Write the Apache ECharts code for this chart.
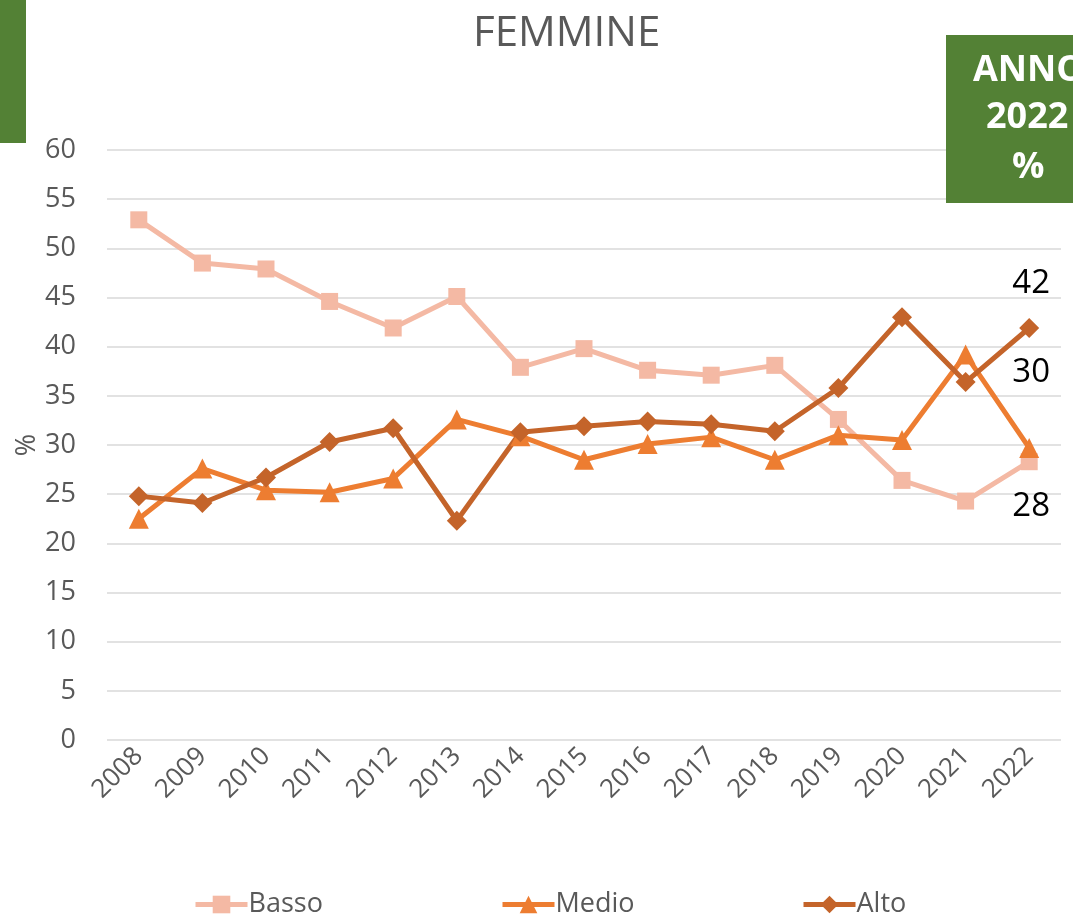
<!DOCTYPE html>
<html>
<head>
<meta charset="utf-8">
<script src="https://cdn.jsdelivr.net/npm/echarts@6/dist/echarts.min.js"></script>
<style>
  html, body { margin: 0; padding: 0; background: #fff; }
  #chart { width: 1073px; height: 918px; }
</style>
</head>
<body>
<div id="chart"></div>
<script>
// anni sull'asse x
const years = ['2008', '2009', '2010', '2011', '2012', '2013', '2014', '2015',
  '2016', '2017', '2018', '2019', '2020', '2021', '2022'];
// percentuali
const basso = [52.9, 48.5, 47.9, 44.6, 41.9, 45.1, 37.9, 39.8, 37.6, 37.1, 38.1, 32.6, 26.4, 24.3, 28.3];
const medio = [22.5, 27.6, 25.4, 25.2, 26.6, 32.6, 30.9, 28.5, 30.1, 30.8, 28.5, 31.0, 30.5, 39.2, 29.7];
const alto = [24.8, 24.1, 26.7, 30.3, 31.7, 22.3, 31.3, 31.9, 32.4, 32.1, 31.4, 35.8, 43.0, 36.4, 41.9];

const font = 'Open Sans';
const grey = '#595959';
const green = '#538135';

// etichetta solo sull'ultimo punto (anno 2022)
function lastLabel(offset) {
  return {
    show: true,
    position: 'inside',
    offset: offset,
    fontFamily: font,
    fontSize: 33,
    color: '#000',
    formatter: p => p.dataIndex === years.length - 1 ? Math.round(p.value) : ''
  };
}

function lineSeries(name, values, color, symbol, size, offset) {
  return {
    name: name,
    type: 'line',
    data: values,
    symbol: symbol,
    symbolSize: size,
    lineStyle: { color: color, width: 5 },
    itemStyle: { color: color },
    label: lastLabel(offset),
    emphasis: { disabled: true },
    animation: false
  };
}

function legendAt(name, left) {
  return {
    data: [name],
    left: left,
    top: 886,
    itemWidth: 52,
    itemHeight: 22,
    itemGap: 0,
    lineStyle: { width: 5 },
    textStyle: { fontFamily: font, fontSize: 27, color: grey, padding: [0, 0, 0, -4] }
  };
}

const chart = echarts.init(document.getElementById('chart'));
chart.setOption({
  backgroundColor: '#fff',
  title: {
    text: 'FEMMINE',
    left: 468,
    top: 8,
    textStyle: { fontFamily: font, fontSize: 42, fontWeight: 'normal', color: grey }
  },
  grid: { left: 107, right: 12, top: 150, bottom: 178, outerBoundsMode: 'none', containLabel: false },
  legend: [legendAt('Basso', 188), legendAt('Medio', 495), legendAt('Alto', 796)],
  xAxis: {
    type: 'category',
    data: years,
    boundaryGap: true,
    axisLine: { show: false },
    axisTick: { show: false },
    axisLabel: {
      rotate: 45,
      margin: 12,
      interval: 0,
      fontFamily: font,
      fontSize: 26,
      color: grey
    }
  },
  yAxis: {
    type: 'value',
    min: 0,
    max: 60,
    interval: 5,
    name: '%',
    nameLocation: 'middle',
    nameRotate: 90,
    nameGap: 66,
    nameMoveOverlap: false,
    nameTextStyle: { fontFamily: font, fontSize: 27, color: grey },
    axisLine: { show: false },
    axisTick: { show: false },
    axisLabel: { fontFamily: font, fontSize: 27, color: grey, margin: 31 },
    splitLine: { lineStyle: { color: '#d9d9d9', width: 1.5 } }
  },
  series: [
    lineSeries('Basso', basso, '#F4B9A4', 'rect', 17, [2, 45]),
    lineSeries('Medio', medio, '#ED7D31', 'triangle', 20, [2, -75]),
    lineSeries('Alto', alto, '#C4642A', 'diamond', 20, [2, -44])
  ],
  graphic: [
    {
      type: 'rect',
      left: 0, top: 0, z: 100,
      shape: { width: 26, height: 143 },
      style: { fill: green }
    },
    {
      type: 'rect',
      left: 946, top: 35, z: 100,
      shape: { width: 130, height: 168 },
      style: { fill: green }
    },
    {
      type: 'text', left: 973, top: 53, z: 101,
      style: { text: 'ANNO', fill: '#fff', font: 'bold 36px "Open Sans"' }
    },
    {
      type: 'text', left: 986, top: 100, z: 101,
      style: { text: '2022', fill: '#fff', font: 'bold 36px "Open Sans"' }
    },
    {
      type: 'text', left: 1012, top: 150, z: 101,
      style: { text: '%', fill: '#fff', font: 'bold 36px "Open Sans"' }
    }
  ]
});
</script>
</body>
</html>
